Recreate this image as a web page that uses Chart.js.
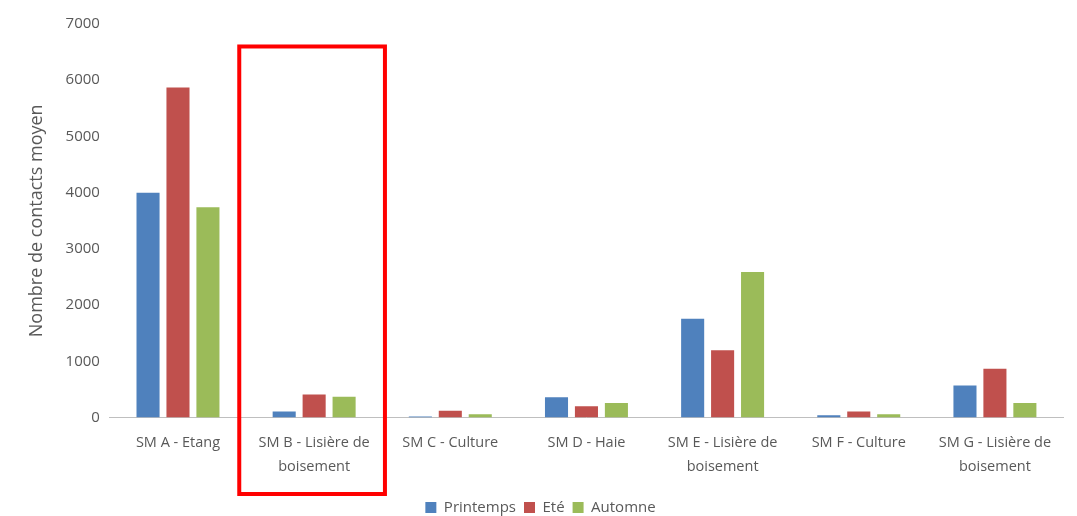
<!DOCTYPE html>
<html>
<head>
<meta charset="utf-8">
<script src="https://cdn.jsdelivr.net/npm/chart.js@4/dist/chart.umd.min.js"></script>
<style>
html,body{margin:0;padding:0;background:#fff;}
#wrap{width:1077px;height:516px;position:relative;}
</style>
</head>
<body>
<div id="wrap"><canvas id="c" width="1077" height="516"></canvas></div>
<script>
const categories = [
  "SM A - Etang",
  ["SM B - Lisière de", "boisement"],
  "SM C - Culture",
  "SM D - Haie",
  ["SM E - Lisière de", "boisement"],
  "SM F - Culture",
  ["SM G - Lisière de", "boisement"]
];
const printemps = [4000, 110, 20, 360, 1760, 40, 570];
const ete       = [5870, 410, 120, 200, 1200, 110, 870];
const automne   = [3740, 370, 60, 260, 2590, 60, 260];
const seriesNames = ["Printemps", "Eté", "Automne"];
const highlightIndex = 1;

const FONT = "'Open Sans', sans-serif";
const GREY = "#595959";

const highlight = {
  id: 'highlight',
  afterDraw(chart) {
    const x = chart.scales.x;
    const y = chart.scales.y;
    const step = x.getPixelForValue(1) - x.getPixelForValue(0);
    const cx = x.getPixelForValue(highlightIndex);
    const ctx = chart.ctx;
    ctx.save();
    ctx.strokeStyle = '#FF0000';
    ctx.lineWidth = 4;
    const left = cx - step * 0.55;
    const right = cx + step * 0.52;
    const top = y.getPixelForValue(6600);
    const bottom = chart.height - 22;
    ctx.strokeRect(left, top, right - left, bottom - top);
    ctx.restore();
  }
};

new Chart(document.getElementById('c'), {
  type: 'bar',
  data: {
    labels: categories,
    datasets: [
      { label: seriesNames[0], data: printemps, backgroundColor: '#4F81BD' },
      { label: seriesNames[1], data: ete, backgroundColor: '#C0504D' },
      { label: seriesNames[2], data: automne, backgroundColor: '#9BBB59' }
    ]
  },
  options: {
    responsive: false,
    animation: false,
    devicePixelRatio: 1,
    layout: { padding: { left: 18, right: 14, top: 24, bottom: -9 } },
    datasets: { bar: { categoryPercentage: 0.66, barPercentage: 0.77 } },
    plugins: {
      legend: {
        position: 'bottom',
        labels: { boxWidth: 11, boxHeight: 11, color: GREY, font: { family: FONT, size: 15 }, padding: 8 }
      },
      tooltip: { enabled: false }
    },
    scales: {
      x: {
        grid: { display: false, drawTicks: false },
        border: { display: true, color: '#BFBFBF', width: 1 },
        ticks: { color: GREY, font: { family: FONT, size: 14.5, lineHeight: 1.6 }, padding: 14, maxRotation: 0, autoSkip: false }
      },
      y: {
        min: 0, max: 7000,
        grid: { display: false, drawTicks: false },
        border: { display: false },
        ticks: { stepSize: 1000, color: GREY, font: { family: FONT, size: 15 }, padding: 10,
                 callback: v => String(v) },
        title: { display: true, text: 'Nombre de contacts moyen', color: GREY, font: { family: FONT, size: 18 }, padding: 8 }
      }
    }
  },
  plugins: [highlight]
});
</script>
</body>
</html>
